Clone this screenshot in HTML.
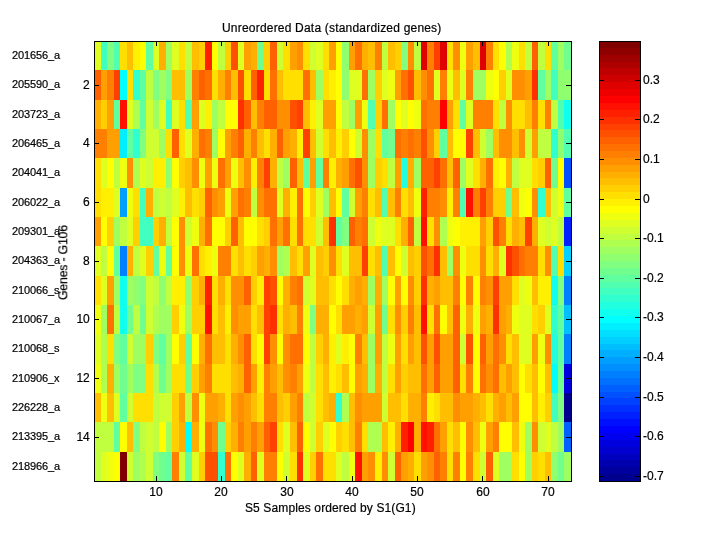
<!DOCTYPE html><html><head><meta charset="utf-8"><title>Unreordered Data</title><style>
html,body{margin:0;padding:0;background:#fff}
body{width:720px;height:540px;position:relative;overflow:hidden;font-family:"Liberation Sans",sans-serif;color:#000}
.t{position:absolute;white-space:nowrap;will-change:transform;-webkit-text-stroke:0.2px #000;font-size:12px;line-height:12px;height:12px}
.g{left:11.7px;font-size:11px;letter-spacing:-0.12px}
.yt{left:60px;width:29.8px;text-align:right}
.xt{width:40px;text-align:center;top:485.6px}
.ct{left:643.1px}
.big{font-size:12px;line-height:14px;height:14px}

</style></head><body>
<svg width="720" height="540" viewBox="0 0 720 540" shape-rendering="crispEdges" style="position:absolute;left:0;top:0">
<rect x="0" y="0" width="720" height="540" fill="#fff"/>
<rect x="94" y="41" width="7" height="29" fill="#dfff20"/>
<rect x="101" y="41" width="6" height="29" fill="#40ffbf"/>
<rect x="107" y="41" width="7" height="29" fill="#80ff80"/>
<rect x="114" y="41" width="6" height="29" fill="#50ffaf"/>
<rect x="120" y="41" width="7" height="29" fill="#ffdf00"/>
<rect x="127" y="41" width="6" height="29" fill="#ffbf00"/>
<rect x="133" y="41" width="7" height="29" fill="#ffef00"/>
<rect x="140" y="41" width="6" height="29" fill="#ffff00"/>
<rect x="146" y="41" width="7" height="29" fill="#60ff9f"/>
<rect x="153" y="41" width="6" height="29" fill="#dfff20"/>
<rect x="159" y="41" width="7" height="29" fill="#ffaf00"/>
<rect x="166" y="41" width="6" height="29" fill="#9fff60"/>
<rect x="172" y="41" width="7" height="29" fill="#dfff20"/>
<rect x="179" y="41" width="6" height="29" fill="#ffdf00"/>
<rect x="185" y="41" width="7" height="29" fill="#bfff40"/>
<rect x="192" y="41" width="7" height="29" fill="#ffbf00"/>
<rect x="199" y="41" width="6" height="29" fill="#ffcf00"/>
<rect x="205" y="41" width="7" height="29" fill="#ff2000"/>
<rect x="212" y="41" width="6" height="29" fill="#ffff00"/>
<rect x="218" y="41" width="7" height="29" fill="#bfff40"/>
<rect x="225" y="41" width="6" height="29" fill="#ffcf00"/>
<rect x="231" y="41" width="7" height="29" fill="#ff5000"/>
<rect x="238" y="41" width="6" height="29" fill="#dfff20"/>
<rect x="244" y="41" width="7" height="29" fill="#ff9f00"/>
<rect x="251" y="41" width="6" height="29" fill="#ffaf00"/>
<rect x="257" y="41" width="7" height="29" fill="#70ff8f"/>
<rect x="264" y="41" width="6" height="29" fill="#ffcf00"/>
<rect x="270" y="41" width="7" height="29" fill="#ff6000"/>
<rect x="277" y="41" width="6" height="29" fill="#cfff30"/>
<rect x="283" y="41" width="7" height="29" fill="#ffdf00"/>
<rect x="290" y="41" width="7" height="29" fill="#ff9f00"/>
<rect x="297" y="41" width="6" height="29" fill="#ff8f00"/>
<rect x="303" y="41" width="7" height="29" fill="#ffdf00"/>
<rect x="310" y="41" width="6" height="29" fill="#cfff30"/>
<rect x="316" y="41" width="7" height="29" fill="#dfff20"/>
<rect x="323" y="41" width="6" height="29" fill="#ffdf00"/>
<rect x="329" y="41" width="7" height="29" fill="#ff9f00"/>
<rect x="336" y="41" width="6" height="29" fill="#ffff00"/>
<rect x="342" y="41" width="7" height="29" fill="#8fff70"/>
<rect x="349" y="41" width="6" height="29" fill="#ff9f00"/>
<rect x="355" y="41" width="7" height="29" fill="#ff7000"/>
<rect x="362" y="41" width="6" height="29" fill="#ffaf00"/>
<rect x="368" y="41" width="7" height="29" fill="#ffbf00"/>
<rect x="375" y="41" width="7" height="29" fill="#ff8000"/>
<rect x="382" y="41" width="6" height="29" fill="#bfff40"/>
<rect x="388" y="41" width="7" height="29" fill="#ffbf00"/>
<rect x="395" y="41" width="6" height="29" fill="#ffcf00"/>
<rect x="401" y="41" width="7" height="29" fill="#80ff80"/>
<rect x="408" y="41" width="6" height="29" fill="#ff8f00"/>
<rect x="414" y="41" width="7" height="29" fill="#bfff40"/>
<rect x="421" y="41" width="6" height="29" fill="#df0000"/>
<rect x="427" y="41" width="7" height="29" fill="#ff8000"/>
<rect x="434" y="41" width="6" height="29" fill="#ff4000"/>
<rect x="440" y="41" width="7" height="29" fill="#df0000"/>
<rect x="447" y="41" width="6" height="29" fill="#ffdf00"/>
<rect x="453" y="41" width="7" height="29" fill="#ff8f00"/>
<rect x="460" y="41" width="6" height="29" fill="#efff10"/>
<rect x="466" y="41" width="7" height="29" fill="#ff9f00"/>
<rect x="473" y="41" width="7" height="29" fill="#ffbf00"/>
<rect x="480" y="41" width="6" height="29" fill="#df0000"/>
<rect x="486" y="41" width="7" height="29" fill="#ff8000"/>
<rect x="493" y="41" width="6" height="29" fill="#ffdf00"/>
<rect x="499" y="41" width="7" height="29" fill="#ffff00"/>
<rect x="506" y="41" width="6" height="29" fill="#afff50"/>
<rect x="512" y="41" width="7" height="29" fill="#efff10"/>
<rect x="519" y="41" width="6" height="29" fill="#ffdf00"/>
<rect x="525" y="41" width="7" height="29" fill="#bfff40"/>
<rect x="532" y="41" width="6" height="29" fill="#ff6000"/>
<rect x="538" y="41" width="7" height="29" fill="#bfff40"/>
<rect x="545" y="41" width="6" height="29" fill="#ffdf00"/>
<rect x="551" y="41" width="7" height="29" fill="#60ff9f"/>
<rect x="558" y="41" width="6" height="29" fill="#9fff60"/>
<rect x="564" y="41" width="7" height="29" fill="#70ff8f"/>
<rect x="94" y="70" width="7" height="30" fill="#ff6000"/>
<rect x="101" y="70" width="6" height="30" fill="#ff9f00"/>
<rect x="107" y="70" width="7" height="30" fill="#ff8000"/>
<rect x="114" y="70" width="6" height="30" fill="#ff4000"/>
<rect x="120" y="70" width="7" height="30" fill="#00ffff"/>
<rect x="127" y="70" width="6" height="30" fill="#ffdf00"/>
<rect x="133" y="70" width="7" height="30" fill="#30ffcf"/>
<rect x="140" y="70" width="6" height="30" fill="#60ff9f"/>
<rect x="146" y="70" width="7" height="30" fill="#bfff40"/>
<rect x="153" y="70" width="6" height="30" fill="#80ff80"/>
<rect x="159" y="70" width="7" height="30" fill="#9fff60"/>
<rect x="166" y="70" width="6" height="30" fill="#80ff80"/>
<rect x="172" y="70" width="13" height="30" fill="#ffbf00"/>
<rect x="185" y="70" width="7" height="30" fill="#9fff60"/>
<rect x="192" y="70" width="7" height="30" fill="#ff8000"/>
<rect x="199" y="70" width="6" height="30" fill="#ff6000"/>
<rect x="205" y="70" width="7" height="30" fill="#ff7000"/>
<rect x="212" y="70" width="6" height="30" fill="#ffdf00"/>
<rect x="218" y="70" width="7" height="30" fill="#ffaf00"/>
<rect x="225" y="70" width="6" height="30" fill="#ff8000"/>
<rect x="231" y="70" width="7" height="30" fill="#ffbf00"/>
<rect x="238" y="70" width="6" height="30" fill="#ff5000"/>
<rect x="244" y="70" width="7" height="30" fill="#ffdf00"/>
<rect x="251" y="70" width="6" height="30" fill="#ff6000"/>
<rect x="257" y="70" width="7" height="30" fill="#ff2000"/>
<rect x="264" y="70" width="6" height="30" fill="#ffdf00"/>
<rect x="270" y="70" width="7" height="30" fill="#ff7000"/>
<rect x="277" y="70" width="6" height="30" fill="#ffbf00"/>
<rect x="283" y="70" width="20" height="30" fill="#ffdf00"/>
<rect x="303" y="70" width="7" height="30" fill="#ff7000"/>
<rect x="310" y="70" width="6" height="30" fill="#ffbf00"/>
<rect x="316" y="70" width="7" height="30" fill="#9fff60"/>
<rect x="323" y="70" width="6" height="30" fill="#ffdf00"/>
<rect x="329" y="70" width="7" height="30" fill="#ffef00"/>
<rect x="336" y="70" width="6" height="30" fill="#ffff00"/>
<rect x="342" y="70" width="7" height="30" fill="#8fff70"/>
<rect x="349" y="70" width="13" height="30" fill="#dfff20"/>
<rect x="362" y="70" width="6" height="30" fill="#ff7000"/>
<rect x="368" y="70" width="7" height="30" fill="#9fff60"/>
<rect x="375" y="70" width="7" height="30" fill="#ffcf00"/>
<rect x="382" y="70" width="6" height="30" fill="#dfff20"/>
<rect x="388" y="70" width="7" height="30" fill="#efff10"/>
<rect x="395" y="70" width="6" height="30" fill="#ff9f00"/>
<rect x="401" y="70" width="7" height="30" fill="#ff7000"/>
<rect x="408" y="70" width="6" height="30" fill="#ff5000"/>
<rect x="414" y="70" width="7" height="30" fill="#ffbf00"/>
<rect x="421" y="70" width="6" height="30" fill="#ff8f00"/>
<rect x="427" y="70" width="7" height="30" fill="#ff7000"/>
<rect x="434" y="70" width="6" height="30" fill="#dfff20"/>
<rect x="440" y="70" width="7" height="30" fill="#ff8000"/>
<rect x="447" y="70" width="6" height="30" fill="#efff10"/>
<rect x="453" y="70" width="7" height="30" fill="#ffbf00"/>
<rect x="460" y="70" width="6" height="30" fill="#dfff20"/>
<rect x="466" y="70" width="7" height="30" fill="#ff8000"/>
<rect x="473" y="70" width="13" height="30" fill="#9fff60"/>
<rect x="486" y="70" width="7" height="30" fill="#efff10"/>
<rect x="493" y="70" width="6" height="30" fill="#ffff00"/>
<rect x="499" y="70" width="7" height="30" fill="#ffcf00"/>
<rect x="506" y="70" width="6" height="30" fill="#dfff20"/>
<rect x="512" y="70" width="13" height="30" fill="#ff8f00"/>
<rect x="525" y="70" width="7" height="30" fill="#ff9f00"/>
<rect x="532" y="70" width="6" height="30" fill="#ff3000"/>
<rect x="538" y="70" width="7" height="30" fill="#60ff9f"/>
<rect x="545" y="70" width="6" height="30" fill="#9fff60"/>
<rect x="551" y="70" width="7" height="30" fill="#40ffbf"/>
<rect x="558" y="70" width="13" height="30" fill="#8fff70"/>
<rect x="94" y="100" width="7" height="29" fill="#ffaf00"/>
<rect x="101" y="100" width="6" height="29" fill="#ffcf00"/>
<rect x="107" y="100" width="7" height="29" fill="#ff9f00"/>
<rect x="114" y="100" width="6" height="29" fill="#60ff9f"/>
<rect x="120" y="100" width="7" height="29" fill="#ff1000"/>
<rect x="127" y="100" width="6" height="29" fill="#dfff20"/>
<rect x="133" y="100" width="7" height="29" fill="#afff50"/>
<rect x="140" y="100" width="6" height="29" fill="#60ff9f"/>
<rect x="146" y="100" width="7" height="29" fill="#cfff30"/>
<rect x="153" y="100" width="6" height="29" fill="#9fff60"/>
<rect x="159" y="100" width="7" height="29" fill="#dfff20"/>
<rect x="166" y="100" width="6" height="29" fill="#40ffbf"/>
<rect x="172" y="100" width="7" height="29" fill="#dfff20"/>
<rect x="179" y="100" width="6" height="29" fill="#ffdf00"/>
<rect x="185" y="100" width="7" height="29" fill="#50ffaf"/>
<rect x="192" y="100" width="7" height="29" fill="#ff9f00"/>
<rect x="199" y="100" width="6" height="29" fill="#dfff20"/>
<rect x="205" y="100" width="7" height="29" fill="#ffef00"/>
<rect x="212" y="100" width="6" height="29" fill="#9fff60"/>
<rect x="218" y="100" width="7" height="29" fill="#bfff40"/>
<rect x="225" y="100" width="13" height="29" fill="#ffff00"/>
<rect x="238" y="100" width="6" height="29" fill="#ff3000"/>
<rect x="244" y="100" width="7" height="29" fill="#ff6000"/>
<rect x="251" y="100" width="6" height="29" fill="#ffbf00"/>
<rect x="257" y="100" width="7" height="29" fill="#ff8000"/>
<rect x="264" y="100" width="13" height="29" fill="#ff6000"/>
<rect x="277" y="100" width="13" height="29" fill="#ff8f00"/>
<rect x="290" y="100" width="7" height="29" fill="#ff5000"/>
<rect x="297" y="100" width="6" height="29" fill="#ff4000"/>
<rect x="303" y="100" width="7" height="29" fill="#ffbf00"/>
<rect x="310" y="100" width="6" height="29" fill="#ffef00"/>
<rect x="316" y="100" width="7" height="29" fill="#dfff20"/>
<rect x="323" y="100" width="13" height="29" fill="#ff9f00"/>
<rect x="336" y="100" width="6" height="29" fill="#ffff00"/>
<rect x="342" y="100" width="7" height="29" fill="#bfff40"/>
<rect x="349" y="100" width="6" height="29" fill="#9fff60"/>
<rect x="355" y="100" width="7" height="29" fill="#ff9f00"/>
<rect x="362" y="100" width="6" height="29" fill="#efff10"/>
<rect x="368" y="100" width="7" height="29" fill="#50ffaf"/>
<rect x="375" y="100" width="7" height="29" fill="#ffcf00"/>
<rect x="382" y="100" width="6" height="29" fill="#ff7000"/>
<rect x="388" y="100" width="7" height="29" fill="#9fff60"/>
<rect x="395" y="100" width="6" height="29" fill="#ffff00"/>
<rect x="401" y="100" width="7" height="29" fill="#dfff20"/>
<rect x="408" y="100" width="6" height="29" fill="#ffff00"/>
<rect x="414" y="100" width="7" height="29" fill="#efff10"/>
<rect x="421" y="100" width="6" height="29" fill="#ff7000"/>
<rect x="427" y="100" width="13" height="29" fill="#ff8000"/>
<rect x="440" y="100" width="7" height="29" fill="#ff0000"/>
<rect x="447" y="100" width="6" height="29" fill="#ff9f00"/>
<rect x="453" y="100" width="7" height="29" fill="#ffdf00"/>
<rect x="460" y="100" width="6" height="29" fill="#60ff9f"/>
<rect x="466" y="100" width="7" height="29" fill="#dfff20"/>
<rect x="473" y="100" width="20" height="29" fill="#ff8000"/>
<rect x="493" y="100" width="6" height="29" fill="#ffdf00"/>
<rect x="499" y="100" width="7" height="29" fill="#bfff40"/>
<rect x="506" y="100" width="6" height="29" fill="#ff8f00"/>
<rect x="512" y="100" width="13" height="29" fill="#ffdf00"/>
<rect x="525" y="100" width="7" height="29" fill="#ffbf00"/>
<rect x="532" y="100" width="6" height="29" fill="#ff8000"/>
<rect x="538" y="100" width="7" height="29" fill="#ffdf00"/>
<rect x="545" y="100" width="6" height="29" fill="#ff8000"/>
<rect x="551" y="100" width="7" height="29" fill="#bfff40"/>
<rect x="558" y="100" width="6" height="29" fill="#50ffaf"/>
<rect x="564" y="100" width="7" height="29" fill="#10ffef"/>
<rect x="94" y="129" width="13" height="29" fill="#ff8000"/>
<rect x="107" y="129" width="13" height="29" fill="#ff9f00"/>
<rect x="120" y="129" width="7" height="29" fill="#00efff"/>
<rect x="127" y="129" width="6" height="29" fill="#60ff9f"/>
<rect x="133" y="129" width="7" height="29" fill="#30ffcf"/>
<rect x="140" y="129" width="6" height="29" fill="#80ff80"/>
<rect x="146" y="129" width="13" height="29" fill="#cfff30"/>
<rect x="159" y="129" width="7" height="29" fill="#9fff60"/>
<rect x="166" y="129" width="6" height="29" fill="#ffdf00"/>
<rect x="172" y="129" width="7" height="29" fill="#ff6000"/>
<rect x="179" y="129" width="6" height="29" fill="#ffdf00"/>
<rect x="185" y="129" width="7" height="29" fill="#dfff20"/>
<rect x="192" y="129" width="7" height="29" fill="#ffaf00"/>
<rect x="199" y="129" width="6" height="29" fill="#ff7000"/>
<rect x="205" y="129" width="7" height="29" fill="#ff8000"/>
<rect x="212" y="129" width="6" height="29" fill="#9fff60"/>
<rect x="218" y="129" width="7" height="29" fill="#ffff00"/>
<rect x="225" y="129" width="6" height="29" fill="#ff9f00"/>
<rect x="231" y="129" width="7" height="29" fill="#ff8000"/>
<rect x="238" y="129" width="6" height="29" fill="#ff6000"/>
<rect x="244" y="129" width="7" height="29" fill="#ffaf00"/>
<rect x="251" y="129" width="6" height="29" fill="#ff8000"/>
<rect x="257" y="129" width="7" height="29" fill="#ffbf00"/>
<rect x="264" y="129" width="6" height="29" fill="#ffdf00"/>
<rect x="270" y="129" width="7" height="29" fill="#ffaf00"/>
<rect x="277" y="129" width="6" height="29" fill="#ff6000"/>
<rect x="283" y="129" width="7" height="29" fill="#ff9f00"/>
<rect x="290" y="129" width="7" height="29" fill="#ffaf00"/>
<rect x="297" y="129" width="6" height="29" fill="#ffef00"/>
<rect x="303" y="129" width="7" height="29" fill="#ff4000"/>
<rect x="310" y="129" width="6" height="29" fill="#ffbf00"/>
<rect x="316" y="129" width="7" height="29" fill="#cfff30"/>
<rect x="323" y="129" width="6" height="29" fill="#ffdf00"/>
<rect x="329" y="129" width="7" height="29" fill="#ffbf00"/>
<rect x="336" y="129" width="6" height="29" fill="#ffef00"/>
<rect x="342" y="129" width="7" height="29" fill="#ffcf00"/>
<rect x="349" y="129" width="6" height="29" fill="#ffff00"/>
<rect x="355" y="129" width="7" height="29" fill="#cfff30"/>
<rect x="362" y="129" width="6" height="29" fill="#ff8f00"/>
<rect x="368" y="129" width="7" height="29" fill="#9fff60"/>
<rect x="375" y="129" width="7" height="29" fill="#ffdf00"/>
<rect x="382" y="129" width="6" height="29" fill="#60ff9f"/>
<rect x="388" y="129" width="7" height="29" fill="#70ff8f"/>
<rect x="395" y="129" width="6" height="29" fill="#ff7000"/>
<rect x="401" y="129" width="7" height="29" fill="#ff8000"/>
<rect x="408" y="129" width="6" height="29" fill="#ff7000"/>
<rect x="414" y="129" width="7" height="29" fill="#ff8000"/>
<rect x="421" y="129" width="6" height="29" fill="#ff5000"/>
<rect x="427" y="129" width="7" height="29" fill="#ff8f00"/>
<rect x="434" y="129" width="6" height="29" fill="#ffcf00"/>
<rect x="440" y="129" width="7" height="29" fill="#60ff9f"/>
<rect x="447" y="129" width="6" height="29" fill="#ffbf00"/>
<rect x="453" y="129" width="13" height="29" fill="#ffff00"/>
<rect x="466" y="129" width="7" height="29" fill="#ff4000"/>
<rect x="473" y="129" width="7" height="29" fill="#ffbf00"/>
<rect x="480" y="129" width="6" height="29" fill="#cfff30"/>
<rect x="486" y="129" width="7" height="29" fill="#9fff60"/>
<rect x="493" y="129" width="6" height="29" fill="#ffbf00"/>
<rect x="499" y="129" width="13" height="29" fill="#ff8f00"/>
<rect x="512" y="129" width="7" height="29" fill="#ffbf00"/>
<rect x="519" y="129" width="6" height="29" fill="#ff8f00"/>
<rect x="525" y="129" width="7" height="29" fill="#cfff30"/>
<rect x="532" y="129" width="6" height="29" fill="#ff9f00"/>
<rect x="538" y="129" width="13" height="29" fill="#bfff40"/>
<rect x="551" y="129" width="7" height="29" fill="#30ffcf"/>
<rect x="558" y="129" width="6" height="29" fill="#8fff70"/>
<rect x="564" y="129" width="7" height="29" fill="#50ffaf"/>
<rect x="94" y="158" width="7" height="30" fill="#ffdf00"/>
<rect x="101" y="158" width="6" height="30" fill="#dfff20"/>
<rect x="107" y="158" width="7" height="30" fill="#ffff00"/>
<rect x="114" y="158" width="6" height="30" fill="#bfff40"/>
<rect x="120" y="158" width="7" height="30" fill="#efff10"/>
<rect x="127" y="158" width="6" height="30" fill="#ff8f00"/>
<rect x="133" y="158" width="7" height="30" fill="#afff50"/>
<rect x="140" y="158" width="6" height="30" fill="#dfff20"/>
<rect x="146" y="158" width="7" height="30" fill="#cfff30"/>
<rect x="153" y="158" width="13" height="30" fill="#ffef00"/>
<rect x="166" y="158" width="6" height="30" fill="#8fff70"/>
<rect x="172" y="158" width="7" height="30" fill="#ffff00"/>
<rect x="179" y="158" width="6" height="30" fill="#ffcf00"/>
<rect x="185" y="158" width="7" height="30" fill="#ffbf00"/>
<rect x="192" y="158" width="7" height="30" fill="#ff8f00"/>
<rect x="199" y="158" width="6" height="30" fill="#efff10"/>
<rect x="205" y="158" width="7" height="30" fill="#ff9f00"/>
<rect x="212" y="158" width="6" height="30" fill="#efff10"/>
<rect x="218" y="158" width="7" height="30" fill="#ff7000"/>
<rect x="225" y="158" width="6" height="30" fill="#ff9f00"/>
<rect x="231" y="158" width="7" height="30" fill="#efff10"/>
<rect x="238" y="158" width="6" height="30" fill="#ffbf00"/>
<rect x="244" y="158" width="7" height="30" fill="#ff8f00"/>
<rect x="251" y="158" width="6" height="30" fill="#ffef00"/>
<rect x="257" y="158" width="7" height="30" fill="#ff8000"/>
<rect x="264" y="158" width="6" height="30" fill="#ff4000"/>
<rect x="270" y="158" width="7" height="30" fill="#ffaf00"/>
<rect x="277" y="158" width="6" height="30" fill="#bfff40"/>
<rect x="283" y="158" width="7" height="30" fill="#9fff60"/>
<rect x="290" y="158" width="7" height="30" fill="#ff6000"/>
<rect x="297" y="158" width="6" height="30" fill="#ffbf00"/>
<rect x="303" y="158" width="7" height="30" fill="#60ff9f"/>
<rect x="310" y="158" width="6" height="30" fill="#ff9f00"/>
<rect x="316" y="158" width="7" height="30" fill="#60ff9f"/>
<rect x="323" y="158" width="6" height="30" fill="#ff8000"/>
<rect x="329" y="158" width="7" height="30" fill="#ffef00"/>
<rect x="336" y="158" width="6" height="30" fill="#ffaf00"/>
<rect x="342" y="158" width="7" height="30" fill="#ff9f00"/>
<rect x="349" y="158" width="6" height="30" fill="#ff7000"/>
<rect x="355" y="158" width="7" height="30" fill="#ff5000"/>
<rect x="362" y="158" width="6" height="30" fill="#ff8f00"/>
<rect x="368" y="158" width="7" height="30" fill="#9fff60"/>
<rect x="375" y="158" width="7" height="30" fill="#ffcf00"/>
<rect x="382" y="158" width="6" height="30" fill="#ffdf00"/>
<rect x="388" y="158" width="7" height="30" fill="#bfff40"/>
<rect x="395" y="158" width="6" height="30" fill="#ff9f00"/>
<rect x="401" y="158" width="7" height="30" fill="#20ffdf"/>
<rect x="408" y="158" width="6" height="30" fill="#ffaf00"/>
<rect x="414" y="158" width="7" height="30" fill="#9fff60"/>
<rect x="421" y="158" width="13" height="30" fill="#ff6000"/>
<rect x="434" y="158" width="6" height="30" fill="#ff4000"/>
<rect x="440" y="158" width="7" height="30" fill="#ff7000"/>
<rect x="447" y="158" width="6" height="30" fill="#ffbf00"/>
<rect x="453" y="158" width="7" height="30" fill="#ff6000"/>
<rect x="460" y="158" width="6" height="30" fill="#9fff60"/>
<rect x="466" y="158" width="7" height="30" fill="#dfff20"/>
<rect x="473" y="158" width="7" height="30" fill="#ffdf00"/>
<rect x="480" y="158" width="6" height="30" fill="#ffaf00"/>
<rect x="486" y="158" width="7" height="30" fill="#ff7000"/>
<rect x="493" y="158" width="6" height="30" fill="#ffef00"/>
<rect x="499" y="158" width="7" height="30" fill="#ffff00"/>
<rect x="506" y="158" width="6" height="30" fill="#ffaf00"/>
<rect x="512" y="158" width="7" height="30" fill="#bfff40"/>
<rect x="519" y="158" width="13" height="30" fill="#dfff20"/>
<rect x="532" y="158" width="6" height="30" fill="#ffdf00"/>
<rect x="538" y="158" width="7" height="30" fill="#ffcf00"/>
<rect x="545" y="158" width="6" height="30" fill="#ff6000"/>
<rect x="551" y="158" width="7" height="30" fill="#70ff8f"/>
<rect x="558" y="158" width="6" height="30" fill="#ffff00"/>
<rect x="564" y="158" width="7" height="30" fill="#0050ff"/>
<rect x="94" y="188" width="7" height="29" fill="#ffdf00"/>
<rect x="101" y="188" width="13" height="29" fill="#ffef00"/>
<rect x="114" y="188" width="6" height="29" fill="#dfff20"/>
<rect x="120" y="188" width="7" height="29" fill="#009fff"/>
<rect x="127" y="188" width="6" height="29" fill="#efff10"/>
<rect x="133" y="188" width="7" height="29" fill="#ffdf00"/>
<rect x="140" y="188" width="6" height="29" fill="#40ffbf"/>
<rect x="146" y="188" width="7" height="29" fill="#ffaf00"/>
<rect x="153" y="188" width="6" height="29" fill="#bfff40"/>
<rect x="159" y="188" width="7" height="29" fill="#cfff30"/>
<rect x="166" y="188" width="6" height="29" fill="#bfff40"/>
<rect x="172" y="188" width="7" height="29" fill="#dfff20"/>
<rect x="179" y="188" width="6" height="29" fill="#ffef00"/>
<rect x="185" y="188" width="7" height="29" fill="#ffbf00"/>
<rect x="192" y="188" width="7" height="29" fill="#ffdf00"/>
<rect x="199" y="188" width="6" height="29" fill="#ffcf00"/>
<rect x="205" y="188" width="7" height="29" fill="#ff6000"/>
<rect x="212" y="188" width="6" height="29" fill="#ff8f00"/>
<rect x="218" y="188" width="7" height="29" fill="#ff9f00"/>
<rect x="225" y="188" width="6" height="29" fill="#efff10"/>
<rect x="231" y="188" width="7" height="29" fill="#ff9f00"/>
<rect x="238" y="188" width="6" height="29" fill="#ff7000"/>
<rect x="244" y="188" width="7" height="29" fill="#ff8000"/>
<rect x="251" y="188" width="6" height="29" fill="#bfff40"/>
<rect x="257" y="188" width="7" height="29" fill="#ff8f00"/>
<rect x="264" y="188" width="13" height="29" fill="#ff7000"/>
<rect x="277" y="188" width="6" height="29" fill="#dfff20"/>
<rect x="283" y="188" width="7" height="29" fill="#ffaf00"/>
<rect x="290" y="188" width="7" height="29" fill="#ffef00"/>
<rect x="297" y="188" width="6" height="29" fill="#ff7000"/>
<rect x="303" y="188" width="7" height="29" fill="#ffff00"/>
<rect x="310" y="188" width="6" height="29" fill="#ffcf00"/>
<rect x="316" y="188" width="7" height="29" fill="#dfff20"/>
<rect x="323" y="188" width="6" height="29" fill="#9fff60"/>
<rect x="329" y="188" width="7" height="29" fill="#ffbf00"/>
<rect x="336" y="188" width="6" height="29" fill="#ffff00"/>
<rect x="342" y="188" width="7" height="29" fill="#60ff9f"/>
<rect x="349" y="188" width="6" height="29" fill="#cfff30"/>
<rect x="355" y="188" width="7" height="29" fill="#ff9f00"/>
<rect x="362" y="188" width="6" height="29" fill="#ff8000"/>
<rect x="368" y="188" width="7" height="29" fill="#ffdf00"/>
<rect x="375" y="188" width="7" height="29" fill="#ffbf00"/>
<rect x="382" y="188" width="6" height="29" fill="#50ffaf"/>
<rect x="388" y="188" width="7" height="29" fill="#ffbf00"/>
<rect x="395" y="188" width="6" height="29" fill="#ff8000"/>
<rect x="401" y="188" width="7" height="29" fill="#ffdf00"/>
<rect x="408" y="188" width="6" height="29" fill="#ffbf00"/>
<rect x="414" y="188" width="7" height="29" fill="#efff10"/>
<rect x="421" y="188" width="6" height="29" fill="#ff2000"/>
<rect x="427" y="188" width="13" height="29" fill="#ff8000"/>
<rect x="440" y="188" width="7" height="29" fill="#ff8f00"/>
<rect x="447" y="188" width="6" height="29" fill="#ffef00"/>
<rect x="453" y="188" width="7" height="29" fill="#ff8000"/>
<rect x="460" y="188" width="6" height="29" fill="#50ffaf"/>
<rect x="466" y="188" width="7" height="29" fill="#ff1000"/>
<rect x="473" y="188" width="7" height="29" fill="#ff8000"/>
<rect x="480" y="188" width="6" height="29" fill="#ff4000"/>
<rect x="486" y="188" width="7" height="29" fill="#ff8000"/>
<rect x="493" y="188" width="13" height="29" fill="#ffcf00"/>
<rect x="506" y="188" width="6" height="29" fill="#70ff8f"/>
<rect x="512" y="188" width="7" height="29" fill="#ffbf00"/>
<rect x="519" y="188" width="6" height="29" fill="#efff10"/>
<rect x="525" y="188" width="7" height="29" fill="#ffff00"/>
<rect x="532" y="188" width="6" height="29" fill="#ff8f00"/>
<rect x="538" y="188" width="7" height="29" fill="#30ffcf"/>
<rect x="545" y="188" width="6" height="29" fill="#ffbf00"/>
<rect x="551" y="188" width="7" height="29" fill="#cfff30"/>
<rect x="558" y="188" width="6" height="29" fill="#efff10"/>
<rect x="564" y="188" width="7" height="29" fill="#60ff9f"/>
<rect x="94" y="217" width="7" height="29" fill="#ff9f00"/>
<rect x="101" y="217" width="6" height="29" fill="#ffff00"/>
<rect x="107" y="217" width="7" height="29" fill="#ffcf00"/>
<rect x="114" y="217" width="6" height="29" fill="#9fff60"/>
<rect x="120" y="217" width="7" height="29" fill="#bfff40"/>
<rect x="127" y="217" width="6" height="29" fill="#dfff20"/>
<rect x="133" y="217" width="7" height="29" fill="#ffcf00"/>
<rect x="140" y="217" width="13" height="29" fill="#40ffbf"/>
<rect x="153" y="217" width="6" height="29" fill="#ffcf00"/>
<rect x="159" y="217" width="7" height="29" fill="#ffaf00"/>
<rect x="166" y="217" width="6" height="29" fill="#bfff40"/>
<rect x="172" y="217" width="7" height="29" fill="#ffff00"/>
<rect x="179" y="217" width="6" height="29" fill="#ff8f00"/>
<rect x="185" y="217" width="7" height="29" fill="#cfff30"/>
<rect x="192" y="217" width="7" height="29" fill="#efff10"/>
<rect x="199" y="217" width="6" height="29" fill="#ffaf00"/>
<rect x="205" y="217" width="7" height="29" fill="#ff7000"/>
<rect x="212" y="217" width="13" height="29" fill="#ffff00"/>
<rect x="225" y="217" width="6" height="29" fill="#ffcf00"/>
<rect x="231" y="217" width="7" height="29" fill="#ff6000"/>
<rect x="238" y="217" width="6" height="29" fill="#ffbf00"/>
<rect x="244" y="217" width="13" height="29" fill="#ffff00"/>
<rect x="257" y="217" width="7" height="29" fill="#ffdf00"/>
<rect x="264" y="217" width="6" height="29" fill="#ffcf00"/>
<rect x="270" y="217" width="7" height="29" fill="#ff7000"/>
<rect x="277" y="217" width="6" height="29" fill="#ff9f00"/>
<rect x="283" y="217" width="7" height="29" fill="#ff7000"/>
<rect x="290" y="217" width="7" height="29" fill="#ffdf00"/>
<rect x="297" y="217" width="6" height="29" fill="#ff7000"/>
<rect x="303" y="217" width="13" height="29" fill="#ffdf00"/>
<rect x="316" y="217" width="7" height="29" fill="#cfff30"/>
<rect x="323" y="217" width="6" height="29" fill="#ffbf00"/>
<rect x="329" y="217" width="7" height="29" fill="#ff3000"/>
<rect x="336" y="217" width="6" height="29" fill="#60ff9f"/>
<rect x="342" y="217" width="7" height="29" fill="#80ff80"/>
<rect x="349" y="217" width="6" height="29" fill="#ff6000"/>
<rect x="355" y="217" width="7" height="29" fill="#ff8000"/>
<rect x="362" y="217" width="6" height="29" fill="#ff7000"/>
<rect x="368" y="217" width="7" height="29" fill="#cfff30"/>
<rect x="375" y="217" width="7" height="29" fill="#efff10"/>
<rect x="382" y="217" width="13" height="29" fill="#dfff20"/>
<rect x="395" y="217" width="6" height="29" fill="#ffdf00"/>
<rect x="401" y="217" width="7" height="29" fill="#ffaf00"/>
<rect x="408" y="217" width="6" height="29" fill="#ff6000"/>
<rect x="414" y="217" width="7" height="29" fill="#bfff40"/>
<rect x="421" y="217" width="6" height="29" fill="#ff1000"/>
<rect x="427" y="217" width="7" height="29" fill="#ffdf00"/>
<rect x="434" y="217" width="6" height="29" fill="#ff8f00"/>
<rect x="440" y="217" width="7" height="29" fill="#afff50"/>
<rect x="447" y="217" width="6" height="29" fill="#efff10"/>
<rect x="453" y="217" width="7" height="29" fill="#ffff00"/>
<rect x="460" y="217" width="20" height="29" fill="#ffef00"/>
<rect x="480" y="217" width="6" height="29" fill="#ff9f00"/>
<rect x="486" y="217" width="7" height="29" fill="#ffcf00"/>
<rect x="493" y="217" width="6" height="29" fill="#ff5000"/>
<rect x="499" y="217" width="7" height="29" fill="#ff8000"/>
<rect x="506" y="217" width="6" height="29" fill="#ffdf00"/>
<rect x="512" y="217" width="7" height="29" fill="#ffaf00"/>
<rect x="519" y="217" width="6" height="29" fill="#ffbf00"/>
<rect x="525" y="217" width="7" height="29" fill="#ff4000"/>
<rect x="532" y="217" width="6" height="29" fill="#ffaf00"/>
<rect x="538" y="217" width="7" height="29" fill="#dfff20"/>
<rect x="545" y="217" width="6" height="29" fill="#cfff30"/>
<rect x="551" y="217" width="7" height="29" fill="#dfff20"/>
<rect x="558" y="217" width="6" height="29" fill="#bfff40"/>
<rect x="564" y="217" width="7" height="29" fill="#0020ff"/>
<rect x="94" y="246" width="7" height="30" fill="#dfff20"/>
<rect x="101" y="246" width="6" height="30" fill="#bfff40"/>
<rect x="107" y="246" width="7" height="30" fill="#ffff00"/>
<rect x="114" y="246" width="6" height="30" fill="#60ff9f"/>
<rect x="120" y="246" width="7" height="30" fill="#0080ff"/>
<rect x="127" y="246" width="6" height="30" fill="#ffaf00"/>
<rect x="133" y="246" width="7" height="30" fill="#bfff40"/>
<rect x="140" y="246" width="6" height="30" fill="#dfff20"/>
<rect x="146" y="246" width="7" height="30" fill="#ffcf00"/>
<rect x="153" y="246" width="6" height="30" fill="#60ff9f"/>
<rect x="159" y="246" width="7" height="30" fill="#efff10"/>
<rect x="166" y="246" width="6" height="30" fill="#60ff9f"/>
<rect x="172" y="246" width="7" height="30" fill="#ffff00"/>
<rect x="179" y="246" width="6" height="30" fill="#ff8f00"/>
<rect x="185" y="246" width="7" height="30" fill="#efff10"/>
<rect x="192" y="246" width="7" height="30" fill="#ff7000"/>
<rect x="199" y="246" width="6" height="30" fill="#ffdf00"/>
<rect x="205" y="246" width="7" height="30" fill="#ffef00"/>
<rect x="212" y="246" width="6" height="30" fill="#efff10"/>
<rect x="218" y="246" width="13" height="30" fill="#ff8000"/>
<rect x="231" y="246" width="7" height="30" fill="#ffdf00"/>
<rect x="238" y="246" width="6" height="30" fill="#ffbf00"/>
<rect x="244" y="246" width="7" height="30" fill="#ffdf00"/>
<rect x="251" y="246" width="6" height="30" fill="#ffcf00"/>
<rect x="257" y="246" width="7" height="30" fill="#ff9f00"/>
<rect x="264" y="246" width="6" height="30" fill="#ffaf00"/>
<rect x="270" y="246" width="7" height="30" fill="#ff8f00"/>
<rect x="277" y="246" width="6" height="30" fill="#9fff60"/>
<rect x="283" y="246" width="7" height="30" fill="#afff50"/>
<rect x="290" y="246" width="7" height="30" fill="#ffbf00"/>
<rect x="297" y="246" width="6" height="30" fill="#ffdf00"/>
<rect x="303" y="246" width="7" height="30" fill="#ff9f00"/>
<rect x="310" y="246" width="6" height="30" fill="#dfff20"/>
<rect x="316" y="246" width="7" height="30" fill="#ffbf00"/>
<rect x="323" y="246" width="6" height="30" fill="#ffcf00"/>
<rect x="329" y="246" width="7" height="30" fill="#ff8f00"/>
<rect x="336" y="246" width="6" height="30" fill="#ffdf00"/>
<rect x="342" y="246" width="7" height="30" fill="#dfff20"/>
<rect x="349" y="246" width="13" height="30" fill="#ffbf00"/>
<rect x="362" y="246" width="6" height="30" fill="#ff4000"/>
<rect x="368" y="246" width="7" height="30" fill="#ffdf00"/>
<rect x="375" y="246" width="7" height="30" fill="#ffbf00"/>
<rect x="382" y="246" width="6" height="30" fill="#50ffaf"/>
<rect x="388" y="246" width="7" height="30" fill="#ffbf00"/>
<rect x="395" y="246" width="6" height="30" fill="#ffff00"/>
<rect x="401" y="246" width="7" height="30" fill="#cfff30"/>
<rect x="408" y="246" width="6" height="30" fill="#ffbf00"/>
<rect x="414" y="246" width="7" height="30" fill="#ffcf00"/>
<rect x="421" y="246" width="6" height="30" fill="#ff5000"/>
<rect x="427" y="246" width="7" height="30" fill="#ff7000"/>
<rect x="434" y="246" width="6" height="30" fill="#ff3000"/>
<rect x="440" y="246" width="7" height="30" fill="#ffbf00"/>
<rect x="447" y="246" width="6" height="30" fill="#9fff60"/>
<rect x="453" y="246" width="7" height="30" fill="#ff8f00"/>
<rect x="460" y="246" width="6" height="30" fill="#efff10"/>
<rect x="466" y="246" width="14" height="30" fill="#ffdf00"/>
<rect x="480" y="246" width="6" height="30" fill="#ff8f00"/>
<rect x="486" y="246" width="7" height="30" fill="#ffdf00"/>
<rect x="493" y="246" width="6" height="30" fill="#ffaf00"/>
<rect x="499" y="246" width="7" height="30" fill="#dfff20"/>
<rect x="506" y="246" width="6" height="30" fill="#ff3000"/>
<rect x="512" y="246" width="7" height="30" fill="#ff5000"/>
<rect x="519" y="246" width="6" height="30" fill="#ff7000"/>
<rect x="525" y="246" width="13" height="30" fill="#ff8000"/>
<rect x="538" y="246" width="7" height="30" fill="#ffdf00"/>
<rect x="545" y="246" width="6" height="30" fill="#ff8f00"/>
<rect x="551" y="246" width="7" height="30" fill="#50ffaf"/>
<rect x="558" y="246" width="6" height="30" fill="#ffdf00"/>
<rect x="564" y="246" width="7" height="30" fill="#00cfff"/>
<rect x="94" y="276" width="7" height="29" fill="#ffdf00"/>
<rect x="101" y="276" width="6" height="29" fill="#dfff20"/>
<rect x="107" y="276" width="7" height="29" fill="#ff9f00"/>
<rect x="114" y="276" width="6" height="29" fill="#9fff60"/>
<rect x="120" y="276" width="7" height="29" fill="#10ffef"/>
<rect x="127" y="276" width="6" height="29" fill="#9fff60"/>
<rect x="133" y="276" width="7" height="29" fill="#8fff70"/>
<rect x="140" y="276" width="6" height="29" fill="#80ff80"/>
<rect x="146" y="276" width="7" height="29" fill="#cfff30"/>
<rect x="153" y="276" width="6" height="29" fill="#bfff40"/>
<rect x="159" y="276" width="7" height="29" fill="#8fff70"/>
<rect x="166" y="276" width="6" height="29" fill="#bfff40"/>
<rect x="172" y="276" width="13" height="29" fill="#ffef00"/>
<rect x="185" y="276" width="7" height="29" fill="#8fff70"/>
<rect x="192" y="276" width="7" height="29" fill="#ffcf00"/>
<rect x="199" y="276" width="6" height="29" fill="#ffaf00"/>
<rect x="205" y="276" width="7" height="29" fill="#ff2000"/>
<rect x="212" y="276" width="6" height="29" fill="#ffdf00"/>
<rect x="218" y="276" width="7" height="29" fill="#ffaf00"/>
<rect x="225" y="276" width="6" height="29" fill="#ffdf00"/>
<rect x="231" y="276" width="13" height="29" fill="#ff8f00"/>
<rect x="244" y="276" width="7" height="29" fill="#ff6000"/>
<rect x="251" y="276" width="6" height="29" fill="#ffcf00"/>
<rect x="257" y="276" width="7" height="29" fill="#ffef00"/>
<rect x="264" y="276" width="6" height="29" fill="#ff4000"/>
<rect x="270" y="276" width="7" height="29" fill="#ff5000"/>
<rect x="277" y="276" width="6" height="29" fill="#ffff00"/>
<rect x="283" y="276" width="7" height="29" fill="#ffaf00"/>
<rect x="290" y="276" width="7" height="29" fill="#ff8000"/>
<rect x="297" y="276" width="6" height="29" fill="#ff7000"/>
<rect x="303" y="276" width="7" height="29" fill="#cfff30"/>
<rect x="310" y="276" width="6" height="29" fill="#dfff20"/>
<rect x="316" y="276" width="13" height="29" fill="#ffbf00"/>
<rect x="329" y="276" width="7" height="29" fill="#ffdf00"/>
<rect x="336" y="276" width="6" height="29" fill="#ffff00"/>
<rect x="342" y="276" width="7" height="29" fill="#ffdf00"/>
<rect x="349" y="276" width="6" height="29" fill="#ffaf00"/>
<rect x="355" y="276" width="7" height="29" fill="#ff9f00"/>
<rect x="362" y="276" width="6" height="29" fill="#ffaf00"/>
<rect x="368" y="276" width="7" height="29" fill="#9fff60"/>
<rect x="375" y="276" width="7" height="29" fill="#ffaf00"/>
<rect x="382" y="276" width="6" height="29" fill="#9fff60"/>
<rect x="388" y="276" width="7" height="29" fill="#ffff00"/>
<rect x="395" y="276" width="6" height="29" fill="#ff9f00"/>
<rect x="401" y="276" width="7" height="29" fill="#ffff00"/>
<rect x="408" y="276" width="6" height="29" fill="#ff8f00"/>
<rect x="414" y="276" width="7" height="29" fill="#ffcf00"/>
<rect x="421" y="276" width="6" height="29" fill="#ff3000"/>
<rect x="427" y="276" width="7" height="29" fill="#ffaf00"/>
<rect x="434" y="276" width="6" height="29" fill="#ff9f00"/>
<rect x="440" y="276" width="13" height="29" fill="#ffbf00"/>
<rect x="453" y="276" width="7" height="29" fill="#ff8000"/>
<rect x="460" y="276" width="6" height="29" fill="#ffff00"/>
<rect x="466" y="276" width="7" height="29" fill="#ff8000"/>
<rect x="473" y="276" width="7" height="29" fill="#ffff00"/>
<rect x="480" y="276" width="6" height="29" fill="#ff8000"/>
<rect x="486" y="276" width="7" height="29" fill="#ff8f00"/>
<rect x="493" y="276" width="6" height="29" fill="#ff4000"/>
<rect x="499" y="276" width="13" height="29" fill="#ff9f00"/>
<rect x="512" y="276" width="7" height="29" fill="#ffdf00"/>
<rect x="519" y="276" width="6" height="29" fill="#dfff20"/>
<rect x="525" y="276" width="7" height="29" fill="#efff10"/>
<rect x="532" y="276" width="6" height="29" fill="#ffbf00"/>
<rect x="538" y="276" width="13" height="29" fill="#ffef00"/>
<rect x="551" y="276" width="7" height="29" fill="#10ffef"/>
<rect x="558" y="276" width="6" height="29" fill="#80ff80"/>
<rect x="564" y="276" width="7" height="29" fill="#0080ff"/>
<rect x="94" y="305" width="7" height="29" fill="#efff10"/>
<rect x="101" y="305" width="6" height="29" fill="#9fff60"/>
<rect x="107" y="305" width="7" height="29" fill="#ff7000"/>
<rect x="114" y="305" width="6" height="29" fill="#bfff40"/>
<rect x="120" y="305" width="7" height="29" fill="#10ffef"/>
<rect x="127" y="305" width="6" height="29" fill="#70ff8f"/>
<rect x="133" y="305" width="7" height="29" fill="#bfff40"/>
<rect x="140" y="305" width="6" height="29" fill="#70ff8f"/>
<rect x="146" y="305" width="7" height="29" fill="#cfff30"/>
<rect x="153" y="305" width="6" height="29" fill="#afff50"/>
<rect x="159" y="305" width="13" height="29" fill="#9fff60"/>
<rect x="172" y="305" width="7" height="29" fill="#ffcf00"/>
<rect x="179" y="305" width="6" height="29" fill="#efff10"/>
<rect x="185" y="305" width="7" height="29" fill="#9fff60"/>
<rect x="192" y="305" width="13" height="29" fill="#ffcf00"/>
<rect x="205" y="305" width="7" height="29" fill="#ff1000"/>
<rect x="212" y="305" width="6" height="29" fill="#ffdf00"/>
<rect x="218" y="305" width="7" height="29" fill="#ffbf00"/>
<rect x="225" y="305" width="6" height="29" fill="#ffef00"/>
<rect x="231" y="305" width="7" height="29" fill="#ff8f00"/>
<rect x="238" y="305" width="13" height="29" fill="#ff9f00"/>
<rect x="251" y="305" width="6" height="29" fill="#ffdf00"/>
<rect x="257" y="305" width="7" height="29" fill="#ffbf00"/>
<rect x="264" y="305" width="6" height="29" fill="#ff4000"/>
<rect x="270" y="305" width="7" height="29" fill="#ff3000"/>
<rect x="277" y="305" width="6" height="29" fill="#ffdf00"/>
<rect x="283" y="305" width="7" height="29" fill="#ffaf00"/>
<rect x="290" y="305" width="7" height="29" fill="#ffbf00"/>
<rect x="297" y="305" width="6" height="29" fill="#ff8000"/>
<rect x="303" y="305" width="7" height="29" fill="#efff10"/>
<rect x="310" y="305" width="6" height="29" fill="#80ff80"/>
<rect x="316" y="305" width="13" height="29" fill="#ffaf00"/>
<rect x="329" y="305" width="7" height="29" fill="#ffff00"/>
<rect x="336" y="305" width="6" height="29" fill="#ffdf00"/>
<rect x="342" y="305" width="13" height="29" fill="#ff9f00"/>
<rect x="355" y="305" width="7" height="29" fill="#ffaf00"/>
<rect x="362" y="305" width="6" height="29" fill="#ff9f00"/>
<rect x="368" y="305" width="7" height="29" fill="#cfff30"/>
<rect x="375" y="305" width="7" height="29" fill="#ff9f00"/>
<rect x="382" y="305" width="6" height="29" fill="#70ff8f"/>
<rect x="388" y="305" width="7" height="29" fill="#ffdf00"/>
<rect x="395" y="305" width="6" height="29" fill="#ff8f00"/>
<rect x="401" y="305" width="7" height="29" fill="#ffcf00"/>
<rect x="408" y="305" width="6" height="29" fill="#ff8000"/>
<rect x="414" y="305" width="7" height="29" fill="#ffbf00"/>
<rect x="421" y="305" width="6" height="29" fill="#ff1000"/>
<rect x="427" y="305" width="7" height="29" fill="#ffdf00"/>
<rect x="434" y="305" width="6" height="29" fill="#ff7000"/>
<rect x="440" y="305" width="7" height="29" fill="#ffff00"/>
<rect x="447" y="305" width="6" height="29" fill="#ffbf00"/>
<rect x="453" y="305" width="7" height="29" fill="#ff6000"/>
<rect x="460" y="305" width="6" height="29" fill="#efff10"/>
<rect x="466" y="305" width="7" height="29" fill="#ffaf00"/>
<rect x="473" y="305" width="7" height="29" fill="#efff10"/>
<rect x="480" y="305" width="6" height="29" fill="#ff9f00"/>
<rect x="486" y="305" width="7" height="29" fill="#ffaf00"/>
<rect x="493" y="305" width="6" height="29" fill="#ff3000"/>
<rect x="499" y="305" width="7" height="29" fill="#ff9f00"/>
<rect x="506" y="305" width="6" height="29" fill="#ffaf00"/>
<rect x="512" y="305" width="7" height="29" fill="#efff10"/>
<rect x="519" y="305" width="13" height="29" fill="#dfff20"/>
<rect x="532" y="305" width="6" height="29" fill="#ffdf00"/>
<rect x="538" y="305" width="7" height="29" fill="#ffcf00"/>
<rect x="545" y="305" width="6" height="29" fill="#dfff20"/>
<rect x="551" y="305" width="7" height="29" fill="#30ffcf"/>
<rect x="558" y="305" width="6" height="29" fill="#60ff9f"/>
<rect x="564" y="305" width="7" height="29" fill="#00bfff"/>
<rect x="94" y="334" width="7" height="30" fill="#dfff20"/>
<rect x="101" y="334" width="6" height="30" fill="#afff50"/>
<rect x="107" y="334" width="7" height="30" fill="#ffdf00"/>
<rect x="114" y="334" width="6" height="30" fill="#80ff80"/>
<rect x="120" y="334" width="7" height="30" fill="#60ff9f"/>
<rect x="127" y="334" width="6" height="30" fill="#cfff30"/>
<rect x="133" y="334" width="13" height="30" fill="#9fff60"/>
<rect x="146" y="334" width="7" height="30" fill="#ffcf00"/>
<rect x="153" y="334" width="6" height="30" fill="#80ff80"/>
<rect x="159" y="334" width="7" height="30" fill="#60ff9f"/>
<rect x="166" y="334" width="6" height="30" fill="#9fff60"/>
<rect x="172" y="334" width="7" height="30" fill="#ffff00"/>
<rect x="179" y="334" width="6" height="30" fill="#ffcf00"/>
<rect x="185" y="334" width="7" height="30" fill="#60ff9f"/>
<rect x="192" y="334" width="7" height="30" fill="#ffff00"/>
<rect x="199" y="334" width="6" height="30" fill="#ffaf00"/>
<rect x="205" y="334" width="7" height="30" fill="#ff7000"/>
<rect x="212" y="334" width="13" height="30" fill="#ffbf00"/>
<rect x="225" y="334" width="6" height="30" fill="#ffdf00"/>
<rect x="231" y="334" width="7" height="30" fill="#ffaf00"/>
<rect x="238" y="334" width="6" height="30" fill="#ff8f00"/>
<rect x="244" y="334" width="7" height="30" fill="#ff6000"/>
<rect x="251" y="334" width="6" height="30" fill="#ffdf00"/>
<rect x="257" y="334" width="7" height="30" fill="#ffff00"/>
<rect x="264" y="334" width="6" height="30" fill="#ff4000"/>
<rect x="270" y="334" width="7" height="30" fill="#ff8f00"/>
<rect x="277" y="334" width="6" height="30" fill="#ffff00"/>
<rect x="283" y="334" width="7" height="30" fill="#ff8f00"/>
<rect x="290" y="334" width="13" height="30" fill="#ff7000"/>
<rect x="303" y="334" width="7" height="30" fill="#ffff00"/>
<rect x="310" y="334" width="6" height="30" fill="#bfff40"/>
<rect x="316" y="334" width="7" height="30" fill="#ffcf00"/>
<rect x="323" y="334" width="6" height="30" fill="#ffaf00"/>
<rect x="329" y="334" width="7" height="30" fill="#ffef00"/>
<rect x="336" y="334" width="6" height="30" fill="#dfff20"/>
<rect x="342" y="334" width="7" height="30" fill="#ffef00"/>
<rect x="349" y="334" width="6" height="30" fill="#ffff00"/>
<rect x="355" y="334" width="7" height="30" fill="#ff8000"/>
<rect x="362" y="334" width="6" height="30" fill="#ffbf00"/>
<rect x="368" y="334" width="7" height="30" fill="#9fff60"/>
<rect x="375" y="334" width="7" height="30" fill="#ff9f00"/>
<rect x="382" y="334" width="6" height="30" fill="#bfff40"/>
<rect x="388" y="334" width="7" height="30" fill="#efff10"/>
<rect x="395" y="334" width="6" height="30" fill="#ff9f00"/>
<rect x="401" y="334" width="7" height="30" fill="#ffdf00"/>
<rect x="408" y="334" width="6" height="30" fill="#ff9f00"/>
<rect x="414" y="334" width="7" height="30" fill="#ffbf00"/>
<rect x="421" y="334" width="6" height="30" fill="#ff5000"/>
<rect x="427" y="334" width="7" height="30" fill="#ff9f00"/>
<rect x="434" y="334" width="6" height="30" fill="#ff5000"/>
<rect x="440" y="334" width="13" height="30" fill="#ff9f00"/>
<rect x="453" y="334" width="7" height="30" fill="#ff6000"/>
<rect x="460" y="334" width="6" height="30" fill="#cfff30"/>
<rect x="466" y="334" width="7" height="30" fill="#ff5000"/>
<rect x="473" y="334" width="7" height="30" fill="#ffff00"/>
<rect x="480" y="334" width="6" height="30" fill="#ff6000"/>
<rect x="486" y="334" width="7" height="30" fill="#ff9f00"/>
<rect x="493" y="334" width="6" height="30" fill="#ff7000"/>
<rect x="499" y="334" width="7" height="30" fill="#ff8f00"/>
<rect x="506" y="334" width="6" height="30" fill="#ffdf00"/>
<rect x="512" y="334" width="7" height="30" fill="#ffbf00"/>
<rect x="519" y="334" width="13" height="30" fill="#dfff20"/>
<rect x="532" y="334" width="6" height="30" fill="#ff9f00"/>
<rect x="538" y="334" width="7" height="30" fill="#efff10"/>
<rect x="545" y="334" width="6" height="30" fill="#ff8f00"/>
<rect x="551" y="334" width="7" height="30" fill="#20ffdf"/>
<rect x="558" y="334" width="6" height="30" fill="#60ff9f"/>
<rect x="564" y="334" width="7" height="30" fill="#0080ff"/>
<rect x="94" y="364" width="7" height="29" fill="#efff10"/>
<rect x="101" y="364" width="6" height="29" fill="#afff50"/>
<rect x="107" y="364" width="7" height="29" fill="#ffaf00"/>
<rect x="114" y="364" width="6" height="29" fill="#9fff60"/>
<rect x="120" y="364" width="7" height="29" fill="#70ff8f"/>
<rect x="127" y="364" width="6" height="29" fill="#9fff60"/>
<rect x="133" y="364" width="13" height="29" fill="#80ff80"/>
<rect x="146" y="364" width="7" height="29" fill="#ffdf00"/>
<rect x="153" y="364" width="6" height="29" fill="#afff50"/>
<rect x="159" y="364" width="7" height="29" fill="#70ff8f"/>
<rect x="166" y="364" width="6" height="29" fill="#9fff60"/>
<rect x="172" y="364" width="13" height="29" fill="#ffdf00"/>
<rect x="185" y="364" width="7" height="29" fill="#70ff8f"/>
<rect x="192" y="364" width="7" height="29" fill="#ffcf00"/>
<rect x="199" y="364" width="6" height="29" fill="#ff9f00"/>
<rect x="205" y="364" width="7" height="29" fill="#ff8000"/>
<rect x="212" y="364" width="19" height="29" fill="#ffdf00"/>
<rect x="231" y="364" width="7" height="29" fill="#ffbf00"/>
<rect x="238" y="364" width="6" height="29" fill="#ffaf00"/>
<rect x="244" y="364" width="7" height="29" fill="#ff6000"/>
<rect x="251" y="364" width="6" height="29" fill="#ff9f00"/>
<rect x="257" y="364" width="7" height="29" fill="#ffef00"/>
<rect x="264" y="364" width="6" height="29" fill="#ff8000"/>
<rect x="270" y="364" width="7" height="29" fill="#ff9f00"/>
<rect x="277" y="364" width="6" height="29" fill="#ffbf00"/>
<rect x="283" y="364" width="7" height="29" fill="#ff8f00"/>
<rect x="290" y="364" width="7" height="29" fill="#ff8000"/>
<rect x="297" y="364" width="6" height="29" fill="#ff9f00"/>
<rect x="303" y="364" width="7" height="29" fill="#efff10"/>
<rect x="310" y="364" width="6" height="29" fill="#bfff40"/>
<rect x="316" y="364" width="7" height="29" fill="#ffdf00"/>
<rect x="323" y="364" width="6" height="29" fill="#ffbf00"/>
<rect x="329" y="364" width="7" height="29" fill="#ffef00"/>
<rect x="336" y="364" width="6" height="29" fill="#ffdf00"/>
<rect x="342" y="364" width="7" height="29" fill="#ffbf00"/>
<rect x="349" y="364" width="6" height="29" fill="#ffff00"/>
<rect x="355" y="364" width="7" height="29" fill="#ff9f00"/>
<rect x="362" y="364" width="6" height="29" fill="#ffaf00"/>
<rect x="368" y="364" width="7" height="29" fill="#9fff60"/>
<rect x="375" y="364" width="7" height="29" fill="#ffaf00"/>
<rect x="382" y="364" width="6" height="29" fill="#bfff40"/>
<rect x="388" y="364" width="7" height="29" fill="#ffdf00"/>
<rect x="395" y="364" width="6" height="29" fill="#ff9f00"/>
<rect x="401" y="364" width="7" height="29" fill="#ffcf00"/>
<rect x="408" y="364" width="13" height="29" fill="#ffbf00"/>
<rect x="421" y="364" width="6" height="29" fill="#ff7000"/>
<rect x="427" y="364" width="7" height="29" fill="#ff9f00"/>
<rect x="434" y="364" width="6" height="29" fill="#ff6000"/>
<rect x="440" y="364" width="13" height="29" fill="#ff9f00"/>
<rect x="453" y="364" width="7" height="29" fill="#ff6000"/>
<rect x="460" y="364" width="6" height="29" fill="#ffdf00"/>
<rect x="466" y="364" width="7" height="29" fill="#ff8000"/>
<rect x="473" y="364" width="7" height="29" fill="#ffff00"/>
<rect x="480" y="364" width="6" height="29" fill="#ff7000"/>
<rect x="486" y="364" width="7" height="29" fill="#ff8f00"/>
<rect x="493" y="364" width="6" height="29" fill="#ff7000"/>
<rect x="499" y="364" width="7" height="29" fill="#ffbf00"/>
<rect x="506" y="364" width="6" height="29" fill="#ff9f00"/>
<rect x="512" y="364" width="7" height="29" fill="#ffbf00"/>
<rect x="519" y="364" width="6" height="29" fill="#ffff00"/>
<rect x="525" y="364" width="7" height="29" fill="#ffdf00"/>
<rect x="532" y="364" width="6" height="29" fill="#ffbf00"/>
<rect x="538" y="364" width="7" height="29" fill="#ffff00"/>
<rect x="545" y="364" width="6" height="29" fill="#ffbf00"/>
<rect x="551" y="364" width="7" height="29" fill="#00ffff"/>
<rect x="558" y="364" width="6" height="29" fill="#70ff8f"/>
<rect x="564" y="364" width="7" height="29" fill="#0000df"/>
<rect x="94" y="393" width="7" height="29" fill="#ffbf00"/>
<rect x="101" y="393" width="6" height="29" fill="#efff10"/>
<rect x="107" y="393" width="7" height="29" fill="#ffbf00"/>
<rect x="114" y="393" width="6" height="29" fill="#dfff20"/>
<rect x="120" y="393" width="7" height="29" fill="#60ff9f"/>
<rect x="127" y="393" width="6" height="29" fill="#cfff30"/>
<rect x="133" y="393" width="20" height="29" fill="#ffdf00"/>
<rect x="153" y="393" width="6" height="29" fill="#bfff40"/>
<rect x="159" y="393" width="13" height="29" fill="#cfff30"/>
<rect x="172" y="393" width="7" height="29" fill="#ffcf00"/>
<rect x="179" y="393" width="6" height="29" fill="#ff9f00"/>
<rect x="185" y="393" width="7" height="29" fill="#bfff40"/>
<rect x="192" y="393" width="7" height="29" fill="#ff8f00"/>
<rect x="199" y="393" width="6" height="29" fill="#efff10"/>
<rect x="205" y="393" width="13" height="29" fill="#ff9f00"/>
<rect x="218" y="393" width="7" height="29" fill="#ffaf00"/>
<rect x="225" y="393" width="6" height="29" fill="#ffdf00"/>
<rect x="231" y="393" width="7" height="29" fill="#ff9f00"/>
<rect x="238" y="393" width="6" height="29" fill="#ff8f00"/>
<rect x="244" y="393" width="7" height="29" fill="#ff9f00"/>
<rect x="251" y="393" width="6" height="29" fill="#ffbf00"/>
<rect x="257" y="393" width="7" height="29" fill="#ffdf00"/>
<rect x="264" y="393" width="13" height="29" fill="#ff8000"/>
<rect x="277" y="393" width="6" height="29" fill="#ffbf00"/>
<rect x="283" y="393" width="7" height="29" fill="#ffcf00"/>
<rect x="290" y="393" width="7" height="29" fill="#ff9f00"/>
<rect x="297" y="393" width="6" height="29" fill="#ff8000"/>
<rect x="303" y="393" width="7" height="29" fill="#bfff40"/>
<rect x="310" y="393" width="6" height="29" fill="#cfff30"/>
<rect x="316" y="393" width="7" height="29" fill="#ffdf00"/>
<rect x="323" y="393" width="6" height="29" fill="#ffbf00"/>
<rect x="329" y="393" width="7" height="29" fill="#ffaf00"/>
<rect x="336" y="393" width="6" height="29" fill="#30ffcf"/>
<rect x="342" y="393" width="7" height="29" fill="#afff50"/>
<rect x="349" y="393" width="6" height="29" fill="#ffbf00"/>
<rect x="355" y="393" width="7" height="29" fill="#ff8f00"/>
<rect x="362" y="393" width="20" height="29" fill="#ff9f00"/>
<rect x="382" y="393" width="6" height="29" fill="#cfff30"/>
<rect x="388" y="393" width="13" height="29" fill="#ffbf00"/>
<rect x="401" y="393" width="7" height="29" fill="#ffdf00"/>
<rect x="408" y="393" width="13" height="29" fill="#ffaf00"/>
<rect x="421" y="393" width="6" height="29" fill="#ff8000"/>
<rect x="427" y="393" width="7" height="29" fill="#ffef00"/>
<rect x="434" y="393" width="6" height="29" fill="#ffdf00"/>
<rect x="440" y="393" width="13" height="29" fill="#ffbf00"/>
<rect x="453" y="393" width="7" height="29" fill="#ff8f00"/>
<rect x="460" y="393" width="13" height="29" fill="#ff9f00"/>
<rect x="473" y="393" width="7" height="29" fill="#ffaf00"/>
<rect x="480" y="393" width="6" height="29" fill="#ffbf00"/>
<rect x="486" y="393" width="7" height="29" fill="#ffdf00"/>
<rect x="493" y="393" width="6" height="29" fill="#ffaf00"/>
<rect x="499" y="393" width="7" height="29" fill="#ff9f00"/>
<rect x="506" y="393" width="6" height="29" fill="#ffbf00"/>
<rect x="512" y="393" width="7" height="29" fill="#ff9f00"/>
<rect x="519" y="393" width="13" height="29" fill="#ffff00"/>
<rect x="532" y="393" width="6" height="29" fill="#ffbf00"/>
<rect x="538" y="393" width="7" height="29" fill="#ffef00"/>
<rect x="545" y="393" width="6" height="29" fill="#ffcf00"/>
<rect x="551" y="393" width="7" height="29" fill="#40ffbf"/>
<rect x="558" y="393" width="6" height="29" fill="#80ff80"/>
<rect x="564" y="393" width="7" height="29" fill="#00008f"/>
<rect x="94" y="422" width="20" height="30" fill="#bfff40"/>
<rect x="114" y="422" width="6" height="30" fill="#60ff9f"/>
<rect x="120" y="422" width="7" height="30" fill="#ffff00"/>
<rect x="127" y="422" width="6" height="30" fill="#ffbf00"/>
<rect x="133" y="422" width="7" height="30" fill="#80ff80"/>
<rect x="140" y="422" width="6" height="30" fill="#bfff40"/>
<rect x="146" y="422" width="7" height="30" fill="#cfff30"/>
<rect x="153" y="422" width="6" height="30" fill="#bfff40"/>
<rect x="159" y="422" width="7" height="30" fill="#ffff00"/>
<rect x="166" y="422" width="6" height="30" fill="#9fff60"/>
<rect x="172" y="422" width="7" height="30" fill="#ffcf00"/>
<rect x="179" y="422" width="6" height="30" fill="#ffaf00"/>
<rect x="185" y="422" width="7" height="30" fill="#00ffff"/>
<rect x="192" y="422" width="7" height="30" fill="#ffaf00"/>
<rect x="199" y="422" width="6" height="30" fill="#efff10"/>
<rect x="205" y="422" width="7" height="30" fill="#ff7000"/>
<rect x="212" y="422" width="6" height="30" fill="#ff8f00"/>
<rect x="218" y="422" width="7" height="30" fill="#70ff8f"/>
<rect x="225" y="422" width="6" height="30" fill="#ffcf00"/>
<rect x="231" y="422" width="7" height="30" fill="#ffaf00"/>
<rect x="238" y="422" width="6" height="30" fill="#ff8000"/>
<rect x="244" y="422" width="7" height="30" fill="#ff9f00"/>
<rect x="251" y="422" width="6" height="30" fill="#ff8000"/>
<rect x="257" y="422" width="7" height="30" fill="#ff9f00"/>
<rect x="264" y="422" width="6" height="30" fill="#ff6000"/>
<rect x="270" y="422" width="7" height="30" fill="#ff4000"/>
<rect x="277" y="422" width="6" height="30" fill="#ffdf00"/>
<rect x="283" y="422" width="7" height="30" fill="#dfff20"/>
<rect x="290" y="422" width="7" height="30" fill="#ffbf00"/>
<rect x="297" y="422" width="6" height="30" fill="#ff6000"/>
<rect x="303" y="422" width="7" height="30" fill="#ffff00"/>
<rect x="310" y="422" width="6" height="30" fill="#cfff30"/>
<rect x="316" y="422" width="7" height="30" fill="#ffcf00"/>
<rect x="323" y="422" width="6" height="30" fill="#dfff20"/>
<rect x="329" y="422" width="7" height="30" fill="#ffff00"/>
<rect x="336" y="422" width="6" height="30" fill="#ffcf00"/>
<rect x="342" y="422" width="7" height="30" fill="#ffdf00"/>
<rect x="349" y="422" width="6" height="30" fill="#ffbf00"/>
<rect x="355" y="422" width="7" height="30" fill="#ff8000"/>
<rect x="362" y="422" width="6" height="30" fill="#ffdf00"/>
<rect x="368" y="422" width="14" height="30" fill="#afff50"/>
<rect x="382" y="422" width="6" height="30" fill="#ffbf00"/>
<rect x="388" y="422" width="7" height="30" fill="#ffef00"/>
<rect x="395" y="422" width="6" height="30" fill="#ffaf00"/>
<rect x="401" y="422" width="7" height="30" fill="#ff2000"/>
<rect x="408" y="422" width="6" height="30" fill="#ff0000"/>
<rect x="414" y="422" width="7" height="30" fill="#ffaf00"/>
<rect x="421" y="422" width="6" height="30" fill="#ff1000"/>
<rect x="427" y="422" width="7" height="30" fill="#ff2000"/>
<rect x="434" y="422" width="6" height="30" fill="#ff7000"/>
<rect x="440" y="422" width="7" height="30" fill="#ff9f00"/>
<rect x="447" y="422" width="6" height="30" fill="#ffdf00"/>
<rect x="453" y="422" width="7" height="30" fill="#ffbf00"/>
<rect x="460" y="422" width="6" height="30" fill="#ffff00"/>
<rect x="466" y="422" width="7" height="30" fill="#ff8f00"/>
<rect x="473" y="422" width="7" height="30" fill="#ffbf00"/>
<rect x="480" y="422" width="6" height="30" fill="#efff10"/>
<rect x="486" y="422" width="7" height="30" fill="#ff9f00"/>
<rect x="493" y="422" width="6" height="30" fill="#ff8000"/>
<rect x="499" y="422" width="13" height="30" fill="#ffff00"/>
<rect x="512" y="422" width="7" height="30" fill="#ffbf00"/>
<rect x="519" y="422" width="6" height="30" fill="#efff10"/>
<rect x="525" y="422" width="7" height="30" fill="#9fff60"/>
<rect x="532" y="422" width="6" height="30" fill="#ff8f00"/>
<rect x="538" y="422" width="7" height="30" fill="#cfff30"/>
<rect x="545" y="422" width="6" height="30" fill="#dfff20"/>
<rect x="551" y="422" width="7" height="30" fill="#bfff40"/>
<rect x="558" y="422" width="6" height="30" fill="#9fff60"/>
<rect x="564" y="422" width="7" height="30" fill="#0060ff"/>
<rect x="94" y="452" width="7" height="29" fill="#bfff40"/>
<rect x="101" y="452" width="6" height="29" fill="#dfff20"/>
<rect x="107" y="452" width="7" height="29" fill="#efff10"/>
<rect x="114" y="452" width="6" height="29" fill="#ffff00"/>
<rect x="120" y="452" width="7" height="29" fill="#800000"/>
<rect x="127" y="452" width="6" height="29" fill="#cfff30"/>
<rect x="133" y="452" width="7" height="29" fill="#9fff60"/>
<rect x="140" y="452" width="6" height="29" fill="#afff50"/>
<rect x="146" y="452" width="7" height="29" fill="#cfff30"/>
<rect x="153" y="452" width="6" height="29" fill="#80ff80"/>
<rect x="159" y="452" width="7" height="29" fill="#70ff8f"/>
<rect x="166" y="452" width="6" height="29" fill="#60ff9f"/>
<rect x="172" y="452" width="7" height="29" fill="#ff8000"/>
<rect x="179" y="452" width="6" height="29" fill="#cfff30"/>
<rect x="185" y="452" width="7" height="29" fill="#60ff9f"/>
<rect x="192" y="452" width="7" height="29" fill="#dfff20"/>
<rect x="199" y="452" width="6" height="29" fill="#ffcf00"/>
<rect x="205" y="452" width="13" height="29" fill="#ff5000"/>
<rect x="218" y="452" width="7" height="29" fill="#30ffcf"/>
<rect x="225" y="452" width="6" height="29" fill="#ff7000"/>
<rect x="231" y="452" width="7" height="29" fill="#ffff00"/>
<rect x="238" y="452" width="6" height="29" fill="#dfff20"/>
<rect x="244" y="452" width="7" height="29" fill="#ffaf00"/>
<rect x="251" y="452" width="6" height="29" fill="#ff6000"/>
<rect x="257" y="452" width="7" height="29" fill="#dfff20"/>
<rect x="264" y="452" width="13" height="29" fill="#ff8000"/>
<rect x="277" y="452" width="6" height="29" fill="#ffff00"/>
<rect x="283" y="452" width="7" height="29" fill="#cfff30"/>
<rect x="290" y="452" width="7" height="29" fill="#ffdf00"/>
<rect x="297" y="452" width="6" height="29" fill="#ff3000"/>
<rect x="303" y="452" width="7" height="29" fill="#dfff20"/>
<rect x="310" y="452" width="6" height="29" fill="#ffcf00"/>
<rect x="316" y="452" width="7" height="29" fill="#ff7000"/>
<rect x="323" y="452" width="13" height="29" fill="#ffdf00"/>
<rect x="336" y="452" width="6" height="29" fill="#dfff20"/>
<rect x="342" y="452" width="7" height="29" fill="#bfff40"/>
<rect x="349" y="452" width="6" height="29" fill="#efff10"/>
<rect x="355" y="452" width="7" height="29" fill="#ff1000"/>
<rect x="362" y="452" width="6" height="29" fill="#ff9f00"/>
<rect x="368" y="452" width="7" height="29" fill="#ff8f00"/>
<rect x="375" y="452" width="7" height="29" fill="#ffef00"/>
<rect x="382" y="452" width="6" height="29" fill="#ff8f00"/>
<rect x="388" y="452" width="7" height="29" fill="#cfff30"/>
<rect x="395" y="452" width="6" height="29" fill="#ff6000"/>
<rect x="401" y="452" width="7" height="29" fill="#ff9f00"/>
<rect x="408" y="452" width="6" height="29" fill="#ffaf00"/>
<rect x="414" y="452" width="7" height="29" fill="#ffdf00"/>
<rect x="421" y="452" width="6" height="29" fill="#ff9f00"/>
<rect x="427" y="452" width="7" height="29" fill="#ff8f00"/>
<rect x="434" y="452" width="6" height="29" fill="#ff6000"/>
<rect x="440" y="452" width="7" height="29" fill="#ff8000"/>
<rect x="447" y="452" width="6" height="29" fill="#ffdf00"/>
<rect x="453" y="452" width="7" height="29" fill="#ff8000"/>
<rect x="460" y="452" width="6" height="29" fill="#ffff00"/>
<rect x="466" y="452" width="7" height="29" fill="#ff8000"/>
<rect x="473" y="452" width="7" height="29" fill="#ffdf00"/>
<rect x="480" y="452" width="6" height="29" fill="#cfff30"/>
<rect x="486" y="452" width="7" height="29" fill="#ff6000"/>
<rect x="493" y="452" width="6" height="29" fill="#dfff20"/>
<rect x="499" y="452" width="13" height="29" fill="#9fff60"/>
<rect x="512" y="452" width="7" height="29" fill="#ffdf00"/>
<rect x="519" y="452" width="6" height="29" fill="#ffff00"/>
<rect x="525" y="452" width="7" height="29" fill="#9fff60"/>
<rect x="532" y="452" width="6" height="29" fill="#ffcf00"/>
<rect x="538" y="452" width="7" height="29" fill="#ffdf00"/>
<rect x="545" y="452" width="6" height="29" fill="#ffbf00"/>
<rect x="551" y="452" width="7" height="29" fill="#8fff70"/>
<rect x="558" y="452" width="6" height="29" fill="#70ff8f"/>
<rect x="564" y="452" width="7" height="29" fill="#9fff60"/>
<rect x="599" y="474" width="41" height="7" fill="#00008f"/>
<rect x="599" y="467" width="41" height="7" fill="#00009f"/>
<rect x="599" y="460" width="41" height="7" fill="#0000af"/>
<rect x="599" y="454" width="41" height="6" fill="#0000bf"/>
<rect x="599" y="447" width="41" height="7" fill="#0000cf"/>
<rect x="599" y="440" width="41" height="7" fill="#0000df"/>
<rect x="599" y="433" width="41" height="7" fill="#0000ef"/>
<rect x="599" y="426" width="41" height="7" fill="#0000ff"/>
<rect x="599" y="419" width="41" height="7" fill="#0010ff"/>
<rect x="599" y="412" width="41" height="7" fill="#0020ff"/>
<rect x="599" y="405" width="41" height="7" fill="#0030ff"/>
<rect x="599" y="398" width="41" height="7" fill="#0040ff"/>
<rect x="599" y="392" width="41" height="6" fill="#0050ff"/>
<rect x="599" y="385" width="41" height="7" fill="#0060ff"/>
<rect x="599" y="378" width="41" height="7" fill="#0070ff"/>
<rect x="599" y="371" width="41" height="7" fill="#0080ff"/>
<rect x="599" y="364" width="41" height="7" fill="#008fff"/>
<rect x="599" y="357" width="41" height="7" fill="#009fff"/>
<rect x="599" y="350" width="41" height="7" fill="#00afff"/>
<rect x="599" y="344" width="41" height="6" fill="#00bfff"/>
<rect x="599" y="337" width="41" height="7" fill="#00cfff"/>
<rect x="599" y="330" width="41" height="7" fill="#00dfff"/>
<rect x="599" y="323" width="41" height="7" fill="#00efff"/>
<rect x="599" y="316" width="41" height="7" fill="#00ffff"/>
<rect x="599" y="309" width="41" height="7" fill="#10ffef"/>
<rect x="599" y="302" width="41" height="7" fill="#20ffdf"/>
<rect x="599" y="295" width="41" height="7" fill="#30ffcf"/>
<rect x="599" y="288" width="41" height="7" fill="#40ffbf"/>
<rect x="599" y="282" width="41" height="6" fill="#50ffaf"/>
<rect x="599" y="275" width="41" height="7" fill="#60ff9f"/>
<rect x="599" y="268" width="41" height="7" fill="#70ff8f"/>
<rect x="599" y="261" width="41" height="7" fill="#80ff80"/>
<rect x="599" y="254" width="41" height="7" fill="#8fff70"/>
<rect x="599" y="247" width="41" height="7" fill="#9fff60"/>
<rect x="599" y="240" width="41" height="7" fill="#afff50"/>
<rect x="599" y="234" width="41" height="6" fill="#bfff40"/>
<rect x="599" y="227" width="41" height="7" fill="#cfff30"/>
<rect x="599" y="220" width="41" height="7" fill="#dfff20"/>
<rect x="599" y="213" width="41" height="7" fill="#efff10"/>
<rect x="599" y="206" width="41" height="7" fill="#ffff00"/>
<rect x="599" y="199" width="41" height="7" fill="#ffef00"/>
<rect x="599" y="192" width="41" height="7" fill="#ffdf00"/>
<rect x="599" y="185" width="41" height="7" fill="#ffcf00"/>
<rect x="599" y="178" width="41" height="7" fill="#ffbf00"/>
<rect x="599" y="172" width="41" height="6" fill="#ffaf00"/>
<rect x="599" y="165" width="41" height="7" fill="#ff9f00"/>
<rect x="599" y="158" width="41" height="7" fill="#ff8f00"/>
<rect x="599" y="151" width="41" height="7" fill="#ff8000"/>
<rect x="599" y="144" width="41" height="7" fill="#ff7000"/>
<rect x="599" y="137" width="41" height="7" fill="#ff6000"/>
<rect x="599" y="130" width="41" height="7" fill="#ff5000"/>
<rect x="599" y="124" width="41" height="6" fill="#ff4000"/>
<rect x="599" y="117" width="41" height="7" fill="#ff3000"/>
<rect x="599" y="110" width="41" height="7" fill="#ff2000"/>
<rect x="599" y="103" width="41" height="7" fill="#ff1000"/>
<rect x="599" y="96" width="41" height="7" fill="#ff0000"/>
<rect x="599" y="89" width="41" height="7" fill="#ef0000"/>
<rect x="599" y="82" width="41" height="7" fill="#df0000"/>
<rect x="599" y="75" width="41" height="7" fill="#cf0000"/>
<rect x="599" y="68" width="41" height="7" fill="#bf0000"/>
<rect x="599" y="62" width="41" height="6" fill="#af0000"/>
<rect x="599" y="55" width="41" height="7" fill="#9f0000"/>
<rect x="599" y="48" width="41" height="7" fill="#8f0000"/>
<rect x="599" y="41" width="41" height="7" fill="#800000"/>
<path d="M94.5 41.5H571.5V481.5H94.5Z" fill="none" stroke="#000" stroke-width="1"/>
<path d="M599.5 41.5H640.5V481.5H599.5Z" fill="none" stroke="#000" stroke-width="1"/>
<path d="M156.5 41v5M156.5 482v-6M221.5 41v5M221.5 482v-6M286.5 41v5M286.5 482v-6M352.5 41v5M352.5 482v-6M417.5 41v5M417.5 482v-6M482.5 41v5M482.5 482v-6M548.5 41v5M548.5 482v-6M94 85.5h5M572 85.5h-6M94 143.5h5M572 143.5h-6M94 202.5h5M572 202.5h-6M94 261.5h5M572 261.5h-6M94 319.5h5M572 319.5h-6M94 378.5h5M572 378.5h-6M94 437.5h5M572 437.5h-6M599 476.5h5M641 476.5h-6M599 436.5h5M641 436.5h-6M599 397.5h5M641 397.5h-6M599 357.5h5M641 357.5h-6M599 317.5h5M641 317.5h-6M599 278.5h5M641 278.5h-6M599 238.5h5M641 238.5h-6M599 199.5h5M641 199.5h-6M599 159.5h5M641 159.5h-6M599 119.5h5M641 119.5h-6M599 80.5h5M641 80.5h-6" fill="none" stroke="#000" stroke-width="1"/>
</svg>
<div class="t g" style="top:49.1px">201656_a</div>
<div class="t g" style="top:78.4px">205590_a</div>
<div class="t g" style="top:107.7px">203723_a</div>
<div class="t g" style="top:137.1px">206465_a</div>
<div class="t g" style="top:166.4px">204041_a</div>
<div class="t g" style="top:195.7px">206022_a</div>
<div class="t g" style="top:225.1px">209301_a</div>
<div class="t g" style="top:254.4px">204363_a</div>
<div class="t g" style="top:283.7px">210066_s</div>
<div class="t g" style="top:313.1px">210067_a</div>
<div class="t g" style="top:342.4px">210068_s</div>
<div class="t g" style="top:371.7px">210906_x</div>
<div class="t g" style="top:401.1px">226228_a</div>
<div class="t g" style="top:430.4px">213395_a</div>
<div class="t g" style="top:459.7px">218966_a</div>
<div class="t yt" style="top:78.6px">2</div>
<div class="t yt" style="top:137.3px">4</div>
<div class="t yt" style="top:195.9px">6</div>
<div class="t yt" style="top:254.6px">8</div>
<div class="t yt" style="top:313.3px">10</div>
<div class="t yt" style="top:371.9px">12</div>
<div class="t yt" style="top:430.6px">14</div>
<div class="t xt" style="left:136.1px">10</div>
<div class="t xt" style="left:201.4px">20</div>
<div class="t xt" style="left:266.8px">30</div>
<div class="t xt" style="left:332.1px">40</div>
<div class="t xt" style="left:397.4px">50</div>
<div class="t xt" style="left:462.8px">60</div>
<div class="t xt" style="left:528.1px">70</div>
<div class="t ct" style="top:469.7px">-0.7</div>
<div class="t ct" style="top:430.1px">-0.6</div>
<div class="t ct" style="top:390.5px">-0.5</div>
<div class="t ct" style="top:350.9px">-0.4</div>
<div class="t ct" style="top:311.3px">-0.3</div>
<div class="t ct" style="top:271.7px">-0.2</div>
<div class="t ct" style="top:232.1px">-0.1</div>
<div class="t ct" style="top:192.5px">0</div>
<div class="t ct" style="top:152.9px">0.1</div>
<div class="t ct" style="top:113.3px">0.2</div>
<div class="t ct" style="top:73.7px">0.3</div>
<div class="t big" style="left:222px;top:20.5px;letter-spacing:0.2px">Unreordered Data (standardized genes)</div>
<div class="t big" style="left:244.9px;top:500.6px;letter-spacing:0.12px">S5 Samples ordered by S1(G1)</div>
<div class="t big" style="left:26px;top:255.5px;width:74px;text-align:center;transform:rotate(-90deg) scaleY(1.1);transform-origin:50% 50%;font-size:12.3px;letter-spacing:-0.2px">Genes - G106</div>
</body></html>
